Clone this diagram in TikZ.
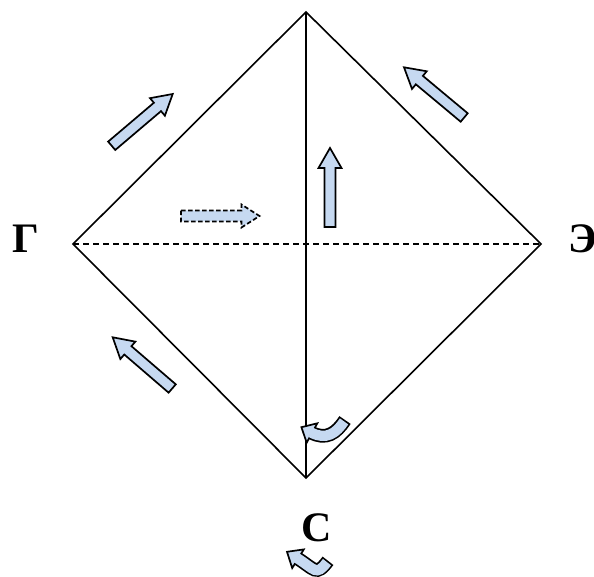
\documentclass[tikz,border=0pt]{standalone}
\usepackage{fontspec}
\setmainfont{Liberation Serif}
\usetikzlibrary{calc}
\definecolor{arrowblue}{RGB}{198,217,241}
\tikzset{
  edge/.style={line width=1.6pt, black},
  dashedge/.style={line width=1.6pt, black, dash pattern=on 6pt off 4pt},
  blockarrow/.style={draw=black, fill=arrowblue, line width=1.7pt, line join=miter},
  lbl/.style={font=\fontsize{42}{44}\selectfont\bfseries, inner sep=0pt, anchor=base},
}
\newcommand{\blkarrow}[4]{%
  \coordinate (hb) at ($(#3)!#4!(#2)$);
  \draw[blockarrow,#1] ($(#2)!5.5pt!90:(#3)$) -- ($(hb)!5.5pt!90:(#3)$) -- ($(hb)!11.5pt!90:(#3)$) -- (#3) -- ($(hb)!11.5pt!-90:(#3)$) -- ($(hb)!5.5pt!-90:(#3)$) -- ($(#2)!5.5pt!-90:(#3)$) -- cycle;}
\begin{document}
\begin{tikzpicture}[x=1pt,y=-1pt]
\useasboundingbox (0,0) rectangle (594,577);
% vertices
\coordinate (top) at (306,12);
\coordinate (left) at (73,244);
\coordinate (right) at (541,244);
\coordinate (bottom) at (306,478);
\draw[edge, line join=miter] (top) -- (left) -- (bottom) -- (right) -- cycle;
\draw[edge] (top) -- (bottom);
\draw[dashedge] (left) -- (right);
% labels
\node[lbl] (G) at (26,253) {Г};
\node[lbl] (E) at (583,253) {Э};
\node[lbl] (S) at (316.5,541) {С};
% straight block arrows
\coordinate (a1t) at (111.7,145.8); \coordinate (a1h) at (172.7,94);
\coordinate (a2t) at (464.2,117.5); \coordinate (a2h) at (404,67.3);
\coordinate (a3t) at (172.2,388.5); \coordinate (a3h) at (112.7,337.3);
\coordinate (a4t) at (181,216);     \coordinate (a4h) at (259.5,216);
\coordinate (a5t) at (330,227);     \coordinate (a5h) at (330,148);
\blkarrow{}{a1t}{a1h}{20pt}
\blkarrow{}{a2t}{a2h}{20pt}
\blkarrow{}{a3t}{a3h}{20pt}
\blkarrow{dash pattern=on 4.5pt off 2.5pt}{a4t}{a4h}{18pt}
\blkarrow{}{a5t}{a5h}{20pt}
% curved arrow inside, near bottom vertex
\coordinate (c1t) at (345,420);
\coordinate (c1b) at (310.7,432.3);
\draw[line width=13.7pt, black] (c1t) .. controls (336.2,433.3) and (326.1,440.7) .. (c1b);
\coordinate (c1l) at (317.3,423.3); \coordinate (c1p) at (301.4,427.2); \coordinate (c1r) at (306.7,442.7);
\filldraw[blockarrow] (c1l) -- (c1p) -- (c1r) -- cycle;
\draw[line width=10.3pt, arrowblue, shorten <=1.7pt] (c1t) .. controls (336.2,433.3) and (326.1,440.7) .. (c1b);
% curved arrow below label
\coordinate (c2t) at (328,560.8);
\coordinate (c2b) at (296.7,557.9);
\draw[line width=13.7pt, black] (c2t) .. controls (316,576.8) and (315,569.3) .. (c2b);
\coordinate (c2l) at (303.8,549.4); \coordinate (c2p) at (287,551.8); \coordinate (c2r) at (292.2,568.1);
\filldraw[blockarrow] (c2l) -- (c2p) -- (c2r) -- cycle;
\draw[line width=10.3pt, arrowblue, shorten <=1.7pt] (c2t) .. controls (316,576.8) and (315,569.3) .. (c2b);
\end{tikzpicture}
\end{document}
